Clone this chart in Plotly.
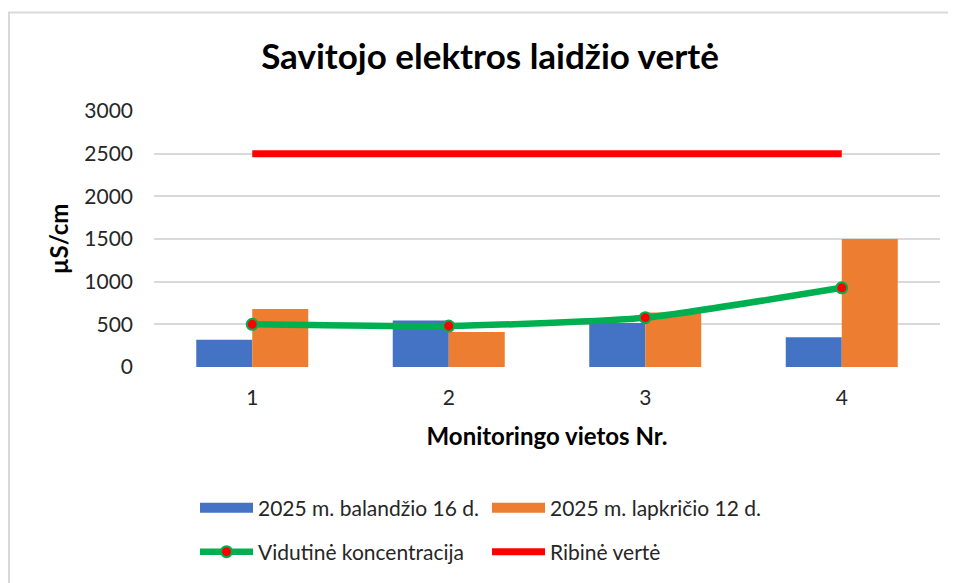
import plotly.graph_objects as go

categories = ["1", "2", "3", "4"]
april_values = [320, 545, 515, 350]
november_values = [680, 410, 640, 1500]
average_values = [500, 480, 578, 928]
limit_values = [2500, 2500, 2500, 2500]
y_ticks = [0, 500, 1000, 1500, 2000, 2500, 3000]

BLUE = "#4472C4"
ORANGE = "#ED7D31"
GREEN = "#00B050"
RED = "#FF0000"
FONT = "Lato"
OFF = 8  # page body margin offset

fig = go.Figure()

fig.add_trace(go.Bar(x=categories, y=april_values, name="2025 m. balandžio 16 d.",
                     marker=dict(color=BLUE, line=dict(width=0)), showlegend=False))
fig.add_trace(go.Bar(x=categories, y=november_values, name="2025 m. lapkričio 12 d.",
                     marker=dict(color=ORANGE, line=dict(width=0)), showlegend=False))
fig.add_trace(go.Scatter(x=categories, y=average_values, name="Vidutinė koncentracija",
                         mode="lines+markers", line=dict(color=GREEN, width=6.5, shape="spline", smoothing=0.55),
                         marker=dict(color=RED, size=11, line=dict(color=GREEN, width=2)),
                         legend="legend2"))
fig.add_trace(go.Scatter(x=categories, y=limit_values, name="Ribinė vertė",
                         mode="lines", line=dict(color=RED, width=7),
                         legend="legend2"))

# legend proxies for the bar series (wide swatches)
fig.add_trace(go.Scatter(x=[None], y=[None], name="2025 m. balandžio 16 d.", mode="lines",
                         line=dict(color=BLUE, width=14), legend="legend"))
fig.add_trace(go.Scatter(x=[None], y=[None], name="2025 m. lapkričio 12 d.", mode="lines",
                         line=dict(color=ORANGE, width=14), legend="legend"))

plot_w = 940 - 154
plot_h = 368 - 111

bx0 = (9 - 154) / plot_w
bx1 = (990 - 154) / plot_w
by_top = (368 - 12) / plot_h
by_bot = (368 - 620) / plot_h

fig.update_layout(
    width=956 - OFF, height=583 - OFF,
    paper_bgcolor="white", plot_bgcolor="white",
    margin=dict(l=154 - OFF, r=16, t=111 - OFF, b=215),
    barmode="group", bargap=0.43, bargroupgap=0,
    font=dict(family=FONT, color="#262626", size=21),
    title=dict(text="<b>Savitojo elektros laidžio vertė</b>", x=(490 - OFF) / (956 - OFF), xanchor="center",
               y=1 - (57 - OFF) / (583 - OFF), yanchor="middle", font=dict(size=35, color="#000000", family=FONT)),
    xaxis=dict(type="category", showgrid=False, showline=False, ticks="", zeroline=False,
               tickfont=dict(size=21, color="#262626"), ticklabelstandoff=16,
               title=dict(text="<b>Monitoringo vietos Nr.</b>", font=dict(size=24, color="#000000"), standoff=20)),
    yaxis=dict(range=[0, 3000], tickvals=y_ticks, showgrid=True, gridcolor="#D9D9D9", gridwidth=1.5,
               zeroline=False, showline=False, ticks="", ticklabelstandoff=20,
               tickfont=dict(size=21, color="#262626"),
               title=dict(text="<b>µS/cm</b>", font=dict(size=24, color="#000000"), standoff=8)),
    legend=dict(orientation="h", x=(195 - 154) / plot_w, xanchor="left", y=(368 - 508) / plot_h, yanchor="middle",
                entrywidth=224, itemwidth=53, font=dict(size=21, color="#262626"), bgcolor="rgba(0,0,0,0)",
                tracegroupgap=0),
    legend2=dict(orientation="h", x=(195 - 154) / plot_w, xanchor="left", y=(368 - 552) / plot_h, yanchor="middle",
                 entrywidth=224, itemwidth=53, font=dict(size=21, color="#262626"), bgcolor="rgba(0,0,0,0)",
                 tracegroupgap=0),
    shapes=[dict(type="path", xref="paper", yref="paper",
                 path=f"M {bx0},{by_bot} L {bx0},{by_top} L {bx1},{by_top}",
                 line=dict(color="#D9D9D9", width=2), layer="below")],
)

fig.write_html("out.html")
